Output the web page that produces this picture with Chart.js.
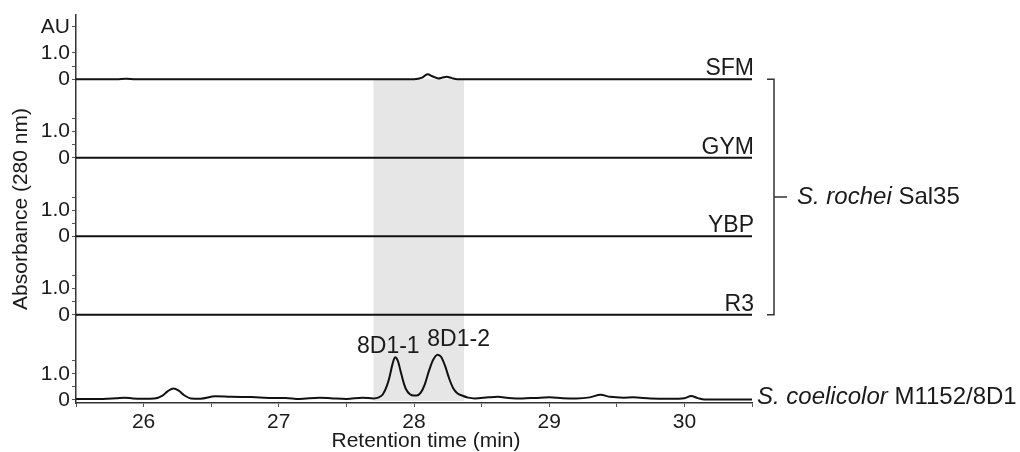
<!DOCTYPE html>
<html>
<head>
<meta charset="utf-8">
<script src="https://cdn.jsdelivr.net/npm/chart.js@4.4.1/dist/chart.umd.min.js"></script>
<style>
  html, body { margin: 0; padding: 0; background: #fff; }
  #wrap { position: relative; width: 1020px; height: 452px; }
</style>
</head>
<body>
<div id="wrap"><canvas id="chromChart"></canvas></div>
<script>
// trazas, de arriba a abajo
const traceNames = ['SFM', 'GYM', 'YBP', 'R3', 'S. coelicolor M1152/8D1'];
// desplazamiento vertical (AU) de la línea base de cada traza
const traceOffsets = [12.25, 9.25, 6.25, 3.25, 0];

// tiempo de retención (min) y absorbancia (AU)
const sfmTime = [25.5, 25.8, 25.87, 25.94, 26.5, 27.0, 27.5, 28.0, 28.06, 28.1, 28.14, 28.18, 28.21, 28.24, 28.28, 28.32, 28.6, 29.0, 29.5, 30.0, 30.5];
const sfmAbs  = [0, 0, 0.015, 0, 0, 0, 0, 0, 0.06, 0.19, 0.1, 0.03, 0.06, 0.09, 0.04, 0, 0, 0, 0, 0, 0];

const gymTime = [25.5, 26.5, 27.5, 28.5, 29.5, 30.5];
const gymAbs  = [0, 0, 0, 0, 0, 0];

const ybpTime = [25.5, 26.5, 27.5, 28.5, 29.5, 30.5];
const ybpAbs  = [0, 0, 0, 0, 0, 0];

const r3Time = [25.5, 26.5, 27.5, 28.5, 29.5, 30.5];
const r3Abs  = [0, 0, 0, 0, 0, 0];

const m1152Time = [
  25.5, 25.7, 25.8, 25.86, 25.92, 26.0, 26.08, 26.14, 26.18, 26.22, 26.26, 26.3, 26.35, 26.42,
  26.53, 26.65, 26.8, 26.95, 27.05, 27.15, 27.3, 27.4, 27.5, 27.62,
  27.7, 27.74, 27.77, 27.8, 27.82, 27.84, 27.86, 27.88, 27.9, 27.92, 27.94, 27.97, 28.0, 28.02,
  28.05, 28.08, 28.11, 28.14, 28.175, 28.2, 28.23, 28.26, 28.29, 28.32, 28.36, 28.4, 28.45,
  28.55, 28.62, 28.7, 28.8, 28.9, 29.0, 29.1, 29.2, 29.3, 29.38, 29.45, 29.55, 29.62, 29.75,
  29.9, 30.0, 30.05, 30.1, 30.15, 30.3, 30.5
];
const m1152Abs = [
  0.04, 0.04, 0.07, 0.09, 0.06, 0.05, 0.06, 0.17, 0.34, 0.44, 0.36, 0.18, 0.06, 0.05,
  0.14, 0.12, 0.11, 0.08, 0.08, 0.04, 0.09, 0.06, 0.04, 0.09,
  0.06, 0.1, 0.22, 0.55, 0.9, 1.35, 1.63, 1.5, 1.12, 0.72, 0.42, 0.22, 0.17, 0.17,
  0.28, 0.6, 1.1, 1.52, 1.73, 1.65, 1.3, 0.82, 0.45, 0.26, 0.16, 0.09, 0.06,
  0.1, 0.12, 0.08, 0.06, 0.08, 0.1, 0.07, 0.06, 0.1, 0.2, 0.12, 0.09, 0.1, 0.06,
  0.05, 0.07, 0.15, 0.07, 0.02, 0.02, 0.02
];

// marcas del eje y de cada traza
const yTickSteps = [0, 0.5, 1.0, 1.5];
const yTickText  = ['0', '', '1.0', ''];
const topTickSteps = [0, 0.5, 1.0, 2.0];
const topTickText  = ['0', '', '1.0', 'AU'];
const xTickLabels = ['26', '27', '28', '29', '30'];

// zona sombreada (min) y picos anotados
const shadeRange = [27.7, 28.37];
const peakNames = ['8D1-1', '8D1-2'];

const FONT = '"Liberation Sans", Arial, sans-serif';
const INK = '#1a1a1a';

const yTicks = [];
traceOffsets.forEach((off, i) => {
    const steps = i === 0 ? topTickSteps : yTickSteps;
    const text = i === 0 ? topTickText : yTickText;
    steps.forEach((s, k) => yTicks.push({ value: +(off + s).toFixed(3), label: text[k] }));
});

const traces = [
    [sfmTime, sfmAbs], [gymTime, gymAbs], [ybpTime, ybpAbs], [r3Time, r3Abs], [m1152Time, m1152Abs]
];

function drawMixed(ctx, parts, x, y, size) {
    // parts: [texto, cursiva]
    ctx.textAlign = 'left';
    ctx.textBaseline = 'middle';
    parts.forEach(([txt, italic]) => {
        ctx.font = (italic ? 'italic ' : '') + size + 'px ' + FONT;
        ctx.fillText(txt, x, y);
        x += ctx.measureText(txt).width;
    });
}

const decorations = {
    id: 'decorations',
    beforeDatasetsDraw(chart) {
        const { ctx, chartArea, scales: { x, y } } = chart;
        const x0 = x.getPixelForValue(shadeRange[0]);
        const x1 = x.getPixelForValue(shadeRange[1]);
        const top = y.getPixelForValue(traceOffsets[0]);
        ctx.save();
        ctx.fillStyle = '#e6e6e6';
        ctx.fillRect(x0, top, x1 - x0, chartArea.bottom - 2 - top);
        ctx.restore();
    },
    afterDraw(chart) {
        const { ctx, chartArea, scales: { x, y } } = chart;
        ctx.save();
        ctx.fillStyle = INK;

        // nombres de los medios
        ctx.font = '23px ' + FONT;
        ctx.textAlign = 'right';
        ctx.textBaseline = 'alphabetic';
        for (let i = 0; i < 4; i++) {
            ctx.fillText(traceNames[i], chartArea.right + 2, y.getPixelForValue(traceOffsets[i]) - 4);
        }

        // cepa de abajo
        drawMixed(ctx, [['S. coelicolor ', true], ['M1152/8D1', false]],
            chartArea.right + 5, y.getPixelForValue(traceOffsets[4]) - 3, 24);

        // llave de S. rochei
        const bx = chartArea.right + 22;
        const bTop = y.getPixelForValue(traceOffsets[0]);
        const bBot = y.getPixelForValue(traceOffsets[3]);
        const bMid = (bTop + bBot) / 2;
        ctx.strokeStyle = '#333';
        ctx.lineWidth = 1.5;
        ctx.beginPath();
        ctx.moveTo(bx - 7, bTop);
        ctx.lineTo(bx, bTop);
        ctx.lineTo(bx, bBot);
        ctx.lineTo(bx - 7, bBot);
        ctx.moveTo(bx, bMid);
        ctx.lineTo(bx + 13, bMid);
        ctx.stroke();
        drawMixed(ctx, [['S. rochei ', true], ['Sal35', false]], bx + 23, bMid, 24);

        // etiquetas de picos
        ctx.font = '23px ' + FONT;
        ctx.textAlign = 'center';
        ctx.textBaseline = 'middle';
        ctx.fillText(peakNames[0], x.getPixelForValue(27.81), y.getPixelForValue(2.05));
        ctx.fillText(peakNames[1], x.getPixelForValue(28.33), y.getPixelForValue(2.32));

        // título eje x
        ctx.font = '21px ' + FONT;
        ctx.fillText('Retention time (min)', (chartArea.left + chartArea.right) / 2 + 12, 441);
        ctx.restore();
    }
};

document.addEventListener('DOMContentLoaded', () => {
    const ctx = document.getElementById('chromChart').getContext('2d');
    new Chart(ctx, {
        type: 'line',
        data: {
            datasets: traces.map(([t, a], i) => ({
                label: traceNames[i],
                data: t.map((tx, k) => ({ x: tx, y: a[k] + traceOffsets[i] })),
                borderColor: '#111',
                borderWidth: 2,
                pointRadius: 0,
                fill: false,
                cubicInterpolationMode: 'monotone'
            }))
        },
        options: {
            responsive: true,
            maintainAspectRatio: false,
            animation: false,
            layout: { padding: { left: 0, right: 268, top: 15, bottom: 0 } },
            plugins: {
                legend: { display: false },
                tooltip: { enabled: false }
            },
            scales: {
                x: {
                    type: 'linear',
                    min: 25.5,
                    max: 30.5,
                    afterFit: scale => { scale.height = 49; },
                    border: { color: '#333', width: 1.5 },
                    grid: { drawOnChartArea: false, tickLength: 4, color: '#555' },
                    ticks: {
                        stepSize: 0.5,
                        autoSkip: false,
                        maxRotation: 0,
                        padding: 3,
                        color: INK,
                        font: { family: FONT, size: 21 },
                        callback: v => {
                            const lbl = String(Math.round(v));
                            return Number.isInteger(v) && xTickLabels.includes(lbl) ? lbl : '';
                        }
                    }
                },
                y: {
                    type: 'linear',
                    min: -0.115,
                    max: 14.7,
                    afterFit: scale => { scale.width = 76; },
                    afterBuildTicks: scale => {
                        scale.ticks = yTicks.map(t => ({ value: t.value }));
                    },
                    border: { color: '#333', width: 1.5 },
                    grid: { drawOnChartArea: false, tickLength: 4, color: '#555' },
                    ticks: {
                        autoSkip: false,
                        padding: 2,
                        color: INK,
                        font: { family: FONT, size: 21 },
                        callback: v => {
                            const t = yTicks.find(t => Math.abs(t.value - v) < 1e-6);
                            return t ? t.label : '';
                        }
                    },
                    title: {
                        display: true,
                        text: 'Absorbance (280 nm)',
                        color: INK,
                        font: { family: FONT, size: 21 },
                        padding: { top: 9, bottom: 0 }
                    }
                }
            }
        },
        plugins: [decorations]
    });
});
</script>
</body>
</html>
